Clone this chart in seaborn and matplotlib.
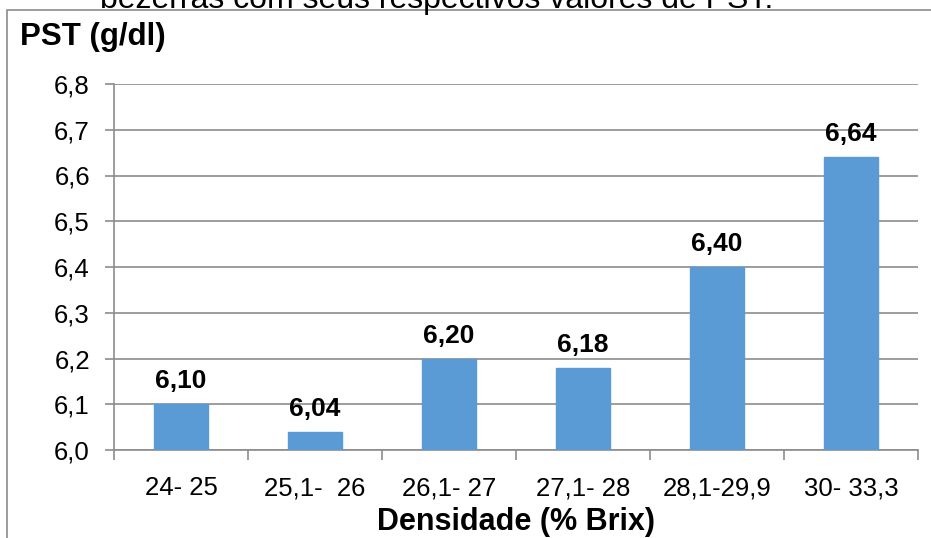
import matplotlib
matplotlib.use("Agg")
import matplotlib.pyplot as plt
from matplotlib.patches import Rectangle
from matplotlib.ticker import FixedLocator, MultipleLocator
import seaborn as sns
import pandas as pd

# datos
categorias = ["24- 25", "25,1-  26", "26,1- 27", "27,1- 28", "28,1-29,9", "30- 33,3"]
pst = [6.10, 6.04, 6.20, 6.18, 6.40, 6.64]
etiquetas = ["6,10", "6,04", "6,20", "6,18", "6,40", "6,64"]
y_ticks = [6.0, 6.1, 6.2, 6.3, 6.4, 6.5, 6.6, 6.7, 6.8]

sns.set_theme(style="white", rc={"text.color": "black", "axes.labelcolor": "black",
                                 "xtick.color": "black", "ytick.color": "black"})
plt.rcParams["font.family"] = ["Liberation Sans", "DejaVu Sans"]

df = pd.DataFrame({"cat": categorias, "pst": pst})

W, H = 931, 538
fig = plt.figure(figsize=(W / 100, H / 100), dpi=100)
ax = fig.add_axes([114 / W, 1 - 450 / H, (918 - 114) / W, (450 - 84) / H])

# borde exterior del gráfico (recortado)
fig.patches.append(Rectangle((7 / W, -0.2), 1.2, 1.2 - 10 / H, transform=fig.transFigure,
                             fill=False, edgecolor="#8c8c8c", linewidth=1.2, zorder=0))

sns.barplot(data=df, x="cat", y="pst", color="#5b9bd5", width=0.4, saturation=1,
            edgecolor="#5b9bd5", ax=ax, zorder=3)

ax.set_ylim(6.0, 6.8)
ax.set_xlim(-0.5, len(categorias) - 0.5)
ax.yaxis.set_major_locator(FixedLocator(y_ticks))
ax.set_yticklabels([f"{v:.1f}".replace(".", ",") for v in y_ticks], fontsize=18.5)
ax.yaxis.grid(True, color="#8c8c8c", linewidth=1.2, zorder=0)
ax.set_axisbelow(True)

# ticks del eje x en los límites de categoría
ax.xaxis.set_minor_locator(MultipleLocator(1, offset=0.5))
ax.tick_params(axis="x", which="major", length=0, pad=19, labelsize=18.5)
ax.tick_params(axis="x", which="minor", length=7, width=1.2, color="#8c8c8c", direction="out")
ax.tick_params(axis="y", length=6.5, width=1.2, color="#8c8c8c", labelcolor="black",
               direction="out", pad=10.8)
ax.xaxis.set_ticks_position("bottom")
ax.yaxis.set_ticks_position("left")

for s in ["top", "right"]:
    ax.spines[s].set_visible(False)
for s in ["left", "bottom"]:
    ax.spines[s].set_color("#8c8c8c")
    ax.spines[s].set_linewidth(1.2)

for i, (v, t) in enumerate(zip(pst, etiquetas)):
    ax.annotate(t, (i, v), xytext=(0, 11.5), textcoords="offset points",
                ha="center", va="baseline", fontsize=19, fontweight="bold", color="black")

ax.set_xlabel("Densidade (% Brix)", fontsize=22, fontweight="bold", labelpad=5)
ax.set_ylabel("")
fig.text(20 / W, 1 - 45 / H, "PST (g/dl)", fontsize=22.5, fontweight="bold", va="baseline")
fig.text(100 / W, 1 - 8 / H, "bezerras com seus respectivos valores de PST:",
         fontsize=23, va="baseline")

fig.savefig("out.png", dpi=100)
